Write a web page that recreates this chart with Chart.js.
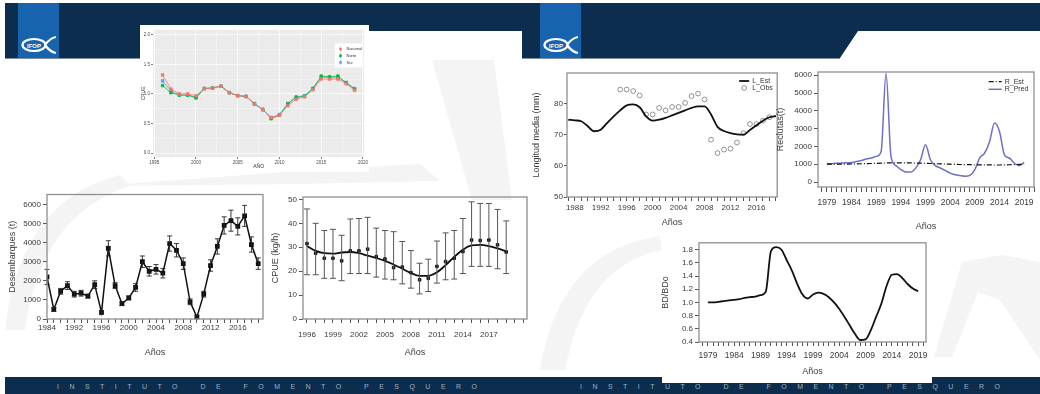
<!DOCTYPE html>
<html lang="es">
<head>
<meta charset="utf-8">
<title>IFOP - indicadores</title>
<script src="https://cdn.jsdelivr.net/npm/chart.js@4.4.1/dist/chart.umd.min.js"></script>
<style>
  html, body { margin: 0; padding: 0; }
  body { width: 1040px; height: 394px; position: relative; overflow: hidden; background: #fff;
         font-family: "Liberation Sans", Arial, sans-serif; }
  #fondo { position: absolute; left: 0; top: 0; }
  .grafico { position: absolute; }
  .grafico canvas { display: block; }
</style>
</head>
<body>
<svg id="fondo" width="1040" height="394">
  <!-- marca de agua -->
  <g fill="#f4f4f4">
    <path d="M95,186 L300,171 L420,164 L440,181 L300,184 Z"/>
    <path d="M432,60 L494,60 L512,200 L472,200 Z"/>
    <path d="M5,330 Q20,200 120,175 L130,186 Q40,215 25,330 Z"/>
    <path d="M934,357 L962,262 L1002,255 L1040,262 L1040,360 L1000,300 L978,292 L952,357 Z"/>
    <path d="M540,370 Q560,250 660,236 L662,250 Q585,265 565,370 Z"/>
  </g>
  <!-- cabeceras -->
  <polygon points="5,3 522,3 522,31 330,31 315,58 5,58" fill="#0d2d4e"/>
  <polygon points="522,3 1040,3 1040,31 858,31 840,58 522,58" fill="#0d2d4e"/>
  <line x1="5" y1="58.5" x2="315" y2="58.5" stroke="#7d8fa5" stroke-width="1"/>
  <line x1="522" y1="58.5" x2="840" y2="58.5" stroke="#7d8fa5" stroke-width="1"/>
  <g id="logo">
    <rect x="18" y="3" width="41" height="55" fill="#1863ad"/>
    <ellipse cx="34" cy="45" rx="11.5" ry="6" fill="none" stroke="#fff" stroke-width="2.2"/>
    <path d="M45,45 Q50,38 56,37 M45,45 Q50,52 56,53" fill="none" stroke="#fff" stroke-width="2.2"/>
    <text x="34" y="47.5" font-size="6" font-weight="bold" fill="#fff" text-anchor="middle">IFOP</text>
  </g>
  <use href="#logo" x="522"/>
  <!-- pies -->
  <rect x="5" y="377" width="1035" height="17" fill="#0d2d4e"/>
  <text x="57" y="389" font-size="7" fill="#9fb0c2" textLength="420" lengthAdjust="spacing">INSTITUTO DE FOMENTO PESQUERO</text>
  <text x="580" y="389" font-size="7" fill="#9fb0c2" textLength="420" lengthAdjust="spacing">INSTITUTO DE FOMENTO PESQUERO</text>
  <!-- fondos blancos de las imagenes pegadas -->
  <rect x="140" y="25" width="229" height="147" fill="#fff"/>
  <rect x="662" y="236" width="270" height="147" fill="#fff"/>
</svg>

<div class="grafico" style="left:140px;top:25px;width:229px;height:147px"><canvas id="cpueZona" width="229" height="147"></canvas></div>
<div class="grafico" style="left:0px;top:185px;width:275px;height:180px"><canvas id="desemb" width="275" height="180"></canvas></div>
<div class="grafico" style="left:270px;top:185px;width:262px;height:180px"><canvas id="cpue" width="262" height="180"></canvas></div>
<div class="grafico" style="left:530px;top:62px;width:252px;height:170px"><canvas id="longitud" width="252" height="170"></canvas></div>
<div class="grafico" style="left:775px;top:62px;width:265px;height:170px"><canvas id="reclutas" width="265" height="170"></canvas></div>
<div class="grafico" style="left:660px;top:236px;width:272px;height:148px"><canvas id="biomasa" width="272" height="148"></canvas></div>

<script>
// ---------- CPUE por zona (ggplot, arriba izq.) ----------
const zonaYears = [1996, 1997, 1998, 1999, 2000, 2001, 2002, 2003, 2004, 2005, 2006, 2007,
                   2008, 2009, 2010, 2011, 2012, 2013, 2014, 2015, 2016, 2017, 2018, 2019];
const zonaNacional = [1.32, 1.08, 1.00, 1.00, 0.97, 1.09, 1.10, 1.13, 1.02, 0.97, 0.96, 0.83,
                      0.73, 0.60, 0.64, 0.80, 0.91, 0.95, 1.07, 1.25, 1.25, 1.25, 1.17, 1.06];
const zonaNorte = [1.14, 1.02, 0.98, 0.98, 0.94, 1.09, 1.10, 1.13, 1.02, 0.97, 0.96, 0.83,
                   0.74, 0.58, 0.64, 0.83, 0.94, 0.96, 1.09, 1.30, 1.29, 1.30, 1.19, 1.08];
const zonaSur = [1.22, 1.05, 0.98, 0.98, 0.93, 1.09, 1.10, 1.13, 1.02, 0.97, 0.95, 0.84,
                 0.73, 0.60, 0.65, 0.84, 0.95, 0.97, 1.09, 1.28, 1.27, 1.27, 1.19, 1.09];

// ---------- desembarques ----------
const desembTickLabels = ['1984', '1992', '1996', '2000', '2004', '2008', '2012', '2016'];
const desembYTicks = [0, 1000, 2000, 3000, 4000, 5000, 6000];
const desembValues = [2200, 500, 1450, 1750, 1300, 1350, 1200, 1800, 350, 3700, 1750, 800,
                      1100, 1650, 3000, 2500, 2600, 2400, 3950, 3600, 2900, 900, 100, 1300,
                      2800, 3800, 4900, 5150, 4850, 5400, 3900, 2900];
const desembErr = [400, 100, 150, 200, 150, 150, 100, 200, 100, 400, 150, 100,
                   100, 200, 300, 250, 250, 250, 400, 350, 300, 150, 100, 150,
                   300, 400, 450, 550, 450, 550, 400, 300];

// ---------- CPUE (kg/h) ----------
const cpueYears = [1996, 1997, 1998, 1999, 2000, 2001, 2002, 2003, 2004, 2005, 2006, 2007,
                   2008, 2009, 2010, 2011, 2012, 2013, 2014, 2015, 2016, 2017, 2018, 2019];
const cpueObs = [31.5, 27.5, 25.4, 25.4, 24.3, 28.5, 28.5, 29.2, 26.1, 25.1, 21.5, 21.7,
                 19.4, 16.4, 17.0, 22.0, 24.0, 25.4, 28.2, 33.0, 32.8, 33.0, 31.0, 28.0];
const cpueLow = [18.5, 18.5, 17.0, 17.0, 16.0, 19.0, 19.0, 19.0, 17.5, 16.7, 16.4, 14.7,
                 12.9, 10.5, 11.5, 15.0, 16.4, 16.7, 19.0, 22.0, 22.0, 22.0, 21.0, 19.0];
const cpueHigh = [46.0, 40.0, 37.0, 37.5, 35.0, 41.8, 42.0, 42.5, 38.0, 37.0, 36.5, 32.4,
                  28.6, 23.3, 25.0, 32.6, 36.0, 37.0, 42.0, 49.0, 48.3, 48.3, 45.8, 41.0];
const cpueFit = [30.5, 28.5, 27.5, 27.3, 27.8, 28.0, 27.5, 26.5, 25.5, 24.3, 22.8, 21.0,
                 19.2, 18.0, 18.0, 19.5, 22.5, 26.0, 29.0, 30.8, 31.0, 30.5, 29.5, 28.3];

// ---------- longitud media ----------
const lengthYears = [1987, 1988, 1989, 1990, 1991, 1992, 1993, 1994, 1995, 1996, 1997, 1998,
                     1999, 2000, 2001, 2002, 2003, 2004, 2005, 2006, 2007, 2008, 2009, 2010,
                     2011, 2012, 2013, 2014, 2015, 2016, 2017, 2018, 2019];
const lengthEst = [74.8, 74.6, 74.3, 72.7, 71.1, 71.6, 73.8, 75.9, 77.8, 79.4, 79.7, 78.8,
                   75.9, 74.5, 74.8, 75.4, 76.2, 77.0, 77.8, 78.6, 79.1, 79.1, 76.5, 72.5,
                   71.2, 70.5, 70.1, 70.0, 71.5, 73.0, 74.5, 75.6, 76.0];
const lengthObs = [null, null, null, null, null, null, null, null, 84.5, 84.5, 84.0, 82.6,
                   76.5, 76.5, 78.6, 77.8, 78.9, 78.9, 80.2, 82.4, 83.2, 81.3, 68.4, 64.1,
                   65.2, 65.5, 67.5, 70.5, 73.4, 73.4, 74.5, 75.6, null];

// ---------- reclutas ----------
const recYears = [1979, 1980, 1981, 1982, 1983, 1984, 1985, 1986, 1987, 1988, 1989, 1990,
                  1991, 1992, 1993, 1994, 1995, 1996, 1997, 1998, 1999, 2000, 2001, 2002,
                  2003, 2004, 2005, 2006, 2007, 2008, 2009, 2010, 2011, 2012, 2013, 2014,
                  2015, 2016, 2017, 2018, 2019];
const recYTicks = [0, 1000, 2000, 3000, 4000, 5000, 6000];
const recEst = [1000, 1000, 1005, 1010, 1010, 1015, 1020, 1025, 1030, 1040, 1050, 1060,
                1070, 1080, 1080, 1080, 1075, 1070, 1065, 1060, 1050, 1040, 1030, 1020,
                1010, 1000, 990, 985, 980, 975, 970, 965, 960, 960, 955, 955,
                960, 970, 980, 990, 1000];
const recPred = [1010, 1030, 1050, 1065, 1080, 1100, 1150, 1210, 1290, 1350, 1440, 1720,
                 6110, 1440, 920, 700, 560, 560, 780, 1250, 2090, 1250, 920, 790,
                 650, 500, 410, 370, 320, 370, 700, 1350, 1630, 2280, 3310, 2840,
                 1530, 1350, 1070, 920, 1100];

// ---------- BD/BDo ----------
const bdYears = recYears;
const bdValues = [1.00, 1.00, 1.01, 1.02, 1.03, 1.04, 1.05, 1.07, 1.08, 1.09, 1.11, 1.16,
                  1.78, 1.84, 1.80, 1.64, 1.48, 1.28, 1.12, 1.06, 1.12, 1.15, 1.13, 1.08,
                  1.00, 0.90, 0.78, 0.65, 0.52, 0.43, 0.44, 0.58, 0.78, 0.98, 1.25, 1.42,
                  1.43, 1.37, 1.28, 1.21, 1.17];

Chart.defaults.font.family = '"Liberation Sans", Arial, sans-serif';
Chart.defaults.color = '#3a3a3a';
Chart.defaults.animation = false;
Chart.defaults.plugins.legend.display = false;
Chart.defaults.plugins.tooltip.enabled = false;
Chart.defaults.elements.point.radius = 0;

function toXY(xs, ys) {
  return xs.map((x, i) => ({ x: x, y: ys[i] }));
}

// panel fill + box frame
const panelPlugin = {
  id: 'panel',
  beforeDraw(chart, args, o) {
    if (!o.fill) return;
    const a = chart.chartArea;
    chart.ctx.save();
    chart.ctx.fillStyle = o.fill;
    chart.ctx.fillRect(a.left, a.top, a.right - a.left, a.bottom - a.top);
    chart.ctx.restore();
  },
  afterDraw(chart, args, o) {
    if (!o.frame) return;
    const a = chart.chartArea, ctx = chart.ctx;
    ctx.save();
    ctx.strokeStyle = o.frame;
    ctx.lineWidth = o.frameWidth || 1;
    ctx.strokeRect(a.left, a.top, a.right - a.left, a.bottom - a.top);
    ctx.restore();
  }
};

// vertical error bars from dataset.errLow / dataset.errHigh
const errorBarPlugin = {
  id: 'errorBars',
  afterDatasetsDraw(chart) {
    const ctx = chart.ctx;
    chart.data.datasets.forEach((ds, i) => {
      if (!ds.errLow) return;
      const meta = chart.getDatasetMeta(i);
      const ys = chart.scales[meta.yAxisID];
      ctx.save();
      ctx.strokeStyle = ds.errColor || '#000';
      ctx.lineWidth = ds.errWidth || 1;
      meta.data.forEach((pt, j) => {
        const lo = ys.getPixelForValue(ds.errLow[j]);
        const hi = ys.getPixelForValue(ds.errHigh[j]);
        const c = ds.capWidth / 2;
        ctx.beginPath();
        ctx.moveTo(pt.x, lo); ctx.lineTo(pt.x, hi);
        ctx.moveTo(pt.x - c, lo); ctx.lineTo(pt.x + c, lo);
        ctx.moveTo(pt.x - c, hi); ctx.lineTo(pt.x + c, hi);
        ctx.stroke();
      });
      ctx.restore();
    });
  }
};

// legend placed inside the plot area (like R / ggplot)
const insetLegend = {
  id: 'insetLegend',
  afterDraw(chart, args, o) {
    if (!o.display) return;
    const ctx = chart.ctx, a = chart.chartArea;
    const items = chart.data.datasets.filter(d => d.label);
    const x = a.right - o.right, y = a.top + o.top;
    ctx.save();
    if (o.box) {
      ctx.fillStyle = '#fff';
      ctx.fillRect(x + o.box.dx, y + o.box.dy, o.box.w, o.box.h);
    }
    ctx.font = o.fontSize + 'px "Liberation Sans", Arial, sans-serif';
    ctx.textBaseline = 'middle';
    items.forEach((d, i) => {
      const yy = y + i * o.rowHeight;
      const cx = x + o.sample / 2;
      if (o.markers || d.showLine === false) {
        if (d.pointStyle === 'circle') {
          ctx.strokeStyle = d.borderColor;
          ctx.lineWidth = d.borderWidth;
          ctx.beginPath(); ctx.arc(cx, yy, d.pointRadius, 0, Math.PI * 2); ctx.stroke();
        } else {
          ctx.fillStyle = d.borderColor;
          ctx.fillRect(cx - 1.3, yy - 1.3, 2.6, 2.6);
          ctx.strokeStyle = d.borderColor;
          ctx.lineWidth = 0.5;
          ctx.beginPath(); ctx.moveTo(cx, yy - 2.5); ctx.lineTo(cx, yy + 2.5); ctx.stroke();
        }
      } else {
        ctx.strokeStyle = d.borderColor;
        ctx.lineWidth = d.borderWidth;
        ctx.setLineDash(d.borderDash || []);
        ctx.beginPath(); ctx.moveTo(x, yy); ctx.lineTo(x + o.sample, yy); ctx.stroke();
        ctx.setLineDash([]);
      }
      ctx.fillStyle = o.color || '#333';
      ctx.fillText(d.label, x + o.sample + o.gap, yy);
    });
    ctx.restore();
  }
};

// R style axes: ticks outside, no grid
function rAxis(o) {
  const axis = {
    type: 'linear', min: o.min, max: o.max,
    border: { display: false },
    grid: { display: true, drawOnChartArea: false, drawTicks: true, tickLength: o.tickLength || 4,
            color: '#555', tickColor: '#555', lineWidth: 1 },
    ticks: { stepSize: o.step, autoSkip: false, includeBounds: false, maxRotation: 0, minRotation: 0,
             padding: o.pad, color: '#3a3a3a', font: { size: o.fontSize || 8 }, callback: o.callback },
    title: { display: true, text: o.title, color: '#3a3a3a', font: { size: 9 },
             padding: { top: o.titlePad, bottom: o.titlePad } }
  };
  // big steps confuse the tick generator, so give the ticks directly
  if (o.tickValues) axis.afterBuildTicks = s => { s.ticks = o.tickValues.map(v => ({ value: v })); };
  if (o.width) axis.afterFit = s => { s.width = o.width; };
  if (o.height) axis.afterFit = s => { s.height = o.height; };
  return axis;
}

const rFrame = { frame: '#8f8f8f', frameWidth: 1.3 };

// ---------- ggplot CPUE por zona ----------
new Chart(document.getElementById('cpueZona'), {
  type: 'line',
  data: {
    datasets: [
      { label: 'Nacional', data: toXY(zonaYears, zonaNacional), borderColor: '#F8766D', backgroundColor: '#F8766D',
        borderWidth: 0.8, pointStyle: 'rect', pointRadius: 1.8 },
      { label: 'Norte', data: toXY(zonaYears, zonaNorte), borderColor: '#00BA38', backgroundColor: '#00BA38',
        borderWidth: 0.8, pointStyle: 'rect', pointRadius: 1.8 },
      { label: 'Sur', data: toXY(zonaYears, zonaSur), borderColor: '#619CFF', backgroundColor: '#619CFF',
        borderWidth: 0.8, pointStyle: 'rect', pointRadius: 1.8 }
    ]
  },
  options: {
    responsive: false,
    layout: { padding: { top: 3, right: 3, left: 0, bottom: 0 } },
    scales: {
      x: {
        type: 'linear', min: 1994.85, max: 2020.15,
        border: { display: false },
        grid: { color: '#fff', lineWidth: c => c.tick && c.tick.value % 5 === 0 ? 0.7 : 0.35,
                tickColor: c => c.tick && c.tick.value % 5 === 0 ? '#444' : 'rgba(0,0,0,0)', tickLength: 2 },
        ticks: { stepSize: 2.5, autoSkip: false, includeBounds: false, maxRotation: 0, padding: 1,
                 color: '#4d4d4d', font: { size: 4.5 }, callback: v => v % 5 === 0 ? String(v) : '' },
        title: { display: true, text: 'AÑO', color: '#333', font: { size: 5 }, padding: { top: 0, bottom: 2 } },
        afterFit: s => { s.height = 15; }
      },
      y: {
        type: 'linear', min: -0.067, max: 2.083,
        border: { display: false },
        grid: { color: '#fff', lineWidth: c => c.tick && Math.round(c.tick.value * 4) % 2 === 0 ? 0.7 : 0.35,
                tickColor: c => c.tick && Math.round(c.tick.value * 4) % 2 === 0 ? '#444' : 'rgba(0,0,0,0)', tickLength: 2 },
        ticks: { stepSize: 0.25, includeBounds: false, padding: 1, color: '#4d4d4d', font: { size: 4.5 },
                 callback: v => Math.round(v * 4) % 2 === 0 ? v.toFixed(1) : '' },
        title: { display: true, text: 'CPUE', color: '#333', font: { size: 5 }, padding: { top: 1, bottom: 0 } },
        afterFit: s => { s.width = 13; }
      }
    },
    plugins: {
      panel: { fill: '#EBEBEB' },
      insetLegend: { display: true, markers: true, right: 25.7, top: 19.3, rowHeight: 6.7, sample: 4, gap: 4,
                     fontSize: 4, color: '#333', box: { dx: -3.6, dy: -5.6, w: 28.3, h: 24 } }
    }
  },
  plugins: [panelPlugin, insetLegend]
});

// ---------- desembarques ----------
new Chart(document.getElementById('desemb'), {
  type: 'line',
  data: {
    datasets: [{
      data: desembValues.map((v, i) => ({ x: i, y: v })),
      borderColor: '#111', backgroundColor: '#111', borderWidth: 1.5,
      pointStyle: 'rect', pointRadius: 2.3,
      errLow: desembValues.map((v, i) => v - desembErr[i]),
      errHigh: desembValues.map((v, i) => v + desembErr[i]),
      errColor: '#222', errWidth: 0.9, capWidth: 5
    }]
  },
  options: {
    responsive: false,
    layout: { padding: { top: 9.5, right: 12, left: 0, bottom: 0 } },
    scales: {
      x: rAxis({ min: 0, max: 31.7, step: 1, pad: 0, height: 46, title: 'Años', titlePad: 6.6,
                 callback: v => (v % 4 === 0 && desembTickLabels[v / 4]) ? desembTickLabels[v / 4] : '' }),
      y: rAxis({ min: 0, max: 6520, tickValues: desembYTicks, pad: 2, width: 47, title: 'Desembarques (t)',
                 titlePad: 7.6, callback: v => String(v) })
    },
    plugins: { panel: rFrame }
  },
  plugins: [panelPlugin, errorBarPlugin]
});

// ---------- CPUE (kg/h) ----------
new Chart(document.getElementById('cpue'), {
  type: 'line',
  data: {
    datasets: [
      { data: toXY(cpueYears, cpueFit), borderColor: '#111', borderWidth: 1.8, cubicInterpolationMode: 'monotone' },
      { data: toXY(cpueYears, cpueObs), showLine: false, pointStyle: 'rect', pointRadius: 1.8,
        backgroundColor: '#111', borderColor: '#111',
        errLow: cpueLow, errHigh: cpueHigh, errColor: '#555', errWidth: 1, capWidth: 6 }
    ]
  },
  options: {
    responsive: false,
    layout: { padding: { top: 12, right: 5, left: 0, bottom: 0 } },
    scales: {
      x: rAxis({ min: 1995.54, max: 2021.4, step: 1, pad: 7, height: 46, title: 'Años', titlePad: 6.6,
                 callback: v => ((v - 1996) % 3 === 0 && v <= 2017) ? String(v) : '' }),
      y: rAxis({ min: 0, max: 51, step: 10, pad: 2, width: 33, title: 'CPUE (kg/h)', titlePad: 0,
                 callback: v => String(v) })
    },
    plugins: { panel: rFrame }
  },
  plugins: [panelPlugin, errorBarPlugin]
});

// ---------- longitud media ----------
new Chart(document.getElementById('longitud'), {
  type: 'line',
  data: {
    datasets: [
      { label: 'L_Est', data: toXY(lengthYears, lengthEst), borderColor: '#111', borderWidth: 1.8,
        cubicInterpolationMode: 'monotone' },
      { label: 'L_Obs', data: toXY(lengthYears, lengthObs), showLine: false, pointStyle: 'circle',
        pointRadius: 2.4, borderColor: '#777', backgroundColor: 'rgba(0,0,0,0)', borderWidth: 0.8 }
    ]
  },
  options: {
    responsive: false,
    layout: { padding: { top: 11, right: 4, left: 0, bottom: 0 } },
    scales: {
      x: rAxis({ min: 1986.8, max: 2019.2, step: 1, pad: 2, height: 35, title: 'Años', titlePad: 3.6,
                 callback: v => ((v - 1988) % 4 === 0 && v <= 2016) ? String(v) : '' }),
      y: rAxis({ min: 50, max: 89.8, step: 10, pad: 1, tickLength: 3, width: 37, title: 'Longitud media (mm)',
                 titlePad: 1.6, callback: v => String(v) })
    },
    plugins: {
      panel: rFrame,
      insetLegend: { display: true, right: 38, top: 8, rowHeight: 7, sample: 10, gap: 3, fontSize: 7 }
    }
  },
  plugins: [panelPlugin, insetLegend]
});

// ---------- reclutas ----------
new Chart(document.getElementById('reclutas'), {
  type: 'line',
  data: {
    datasets: [
      { label: 'R_Est', data: toXY(recYears, recEst), borderColor: '#111', borderWidth: 1.2,
        borderDash: [5, 2, 1, 2] },
      { label: 'R_Pred', data: toXY(recYears, recPred), borderColor: '#6f6fc8', borderWidth: 1.5,
        cubicInterpolationMode: 'monotone' }
    ]
  },
  options: {
    responsive: false,
    layout: { padding: { top: 10, right: 3, left: 0, bottom: 0 } },
    scales: {
      x: rAxis({ min: 1977.2, max: 2021, step: 1, pad: 6, tickLength: 5, height: 45, fontSize: 8.5,
                 title: 'Años', titlePad: 0, callback: v => (v - 1979) % 5 === 0 ? String(v) : '' }),
      y: rAxis({ min: -280, max: 6180, tickValues: recYTicks, pad: 2, width: 43, title: 'Reclutas(t)',
                 titlePad: 0, callback: v => String(v) })
    },
    plugins: {
      panel: rFrame,
      insetLegend: { display: true, right: 45.3, top: 9.7, rowHeight: 7.6, sample: 13, gap: 3, fontSize: 7 }
    }
  },
  plugins: [panelPlugin, insetLegend]
});

// ---------- BD/BDo ----------
new Chart(document.getElementById('biomasa'), {
  type: 'line',
  data: {
    datasets: [
      { data: toXY(bdYears, bdValues), borderColor: '#111', borderWidth: 1.8, cubicInterpolationMode: 'monotone' }
    ]
  },
  options: {
    responsive: false,
    layout: { padding: { top: 6, right: 6, left: 0, bottom: 0 } },
    scales: {
      x: rAxis({ min: 1977.3, max: 2020.5, step: 1, pad: 4.6, height: 42, fontSize: 8.5,
                 title: 'Años', titlePad: 6.6, callback: v => (v - 1979) % 5 === 0 ? String(v) : '' }),
      y: rAxis({ min: 0.4, max: 1.905, step: 0.2, pad: 2, width: 39, title: 'BD/BDo', titlePad: 0,
                 callback: v => v.toFixed(1) })
    },
    plugins: { panel: rFrame }
  },
  plugins: [panelPlugin]
});
</script>
</body>
</html>
